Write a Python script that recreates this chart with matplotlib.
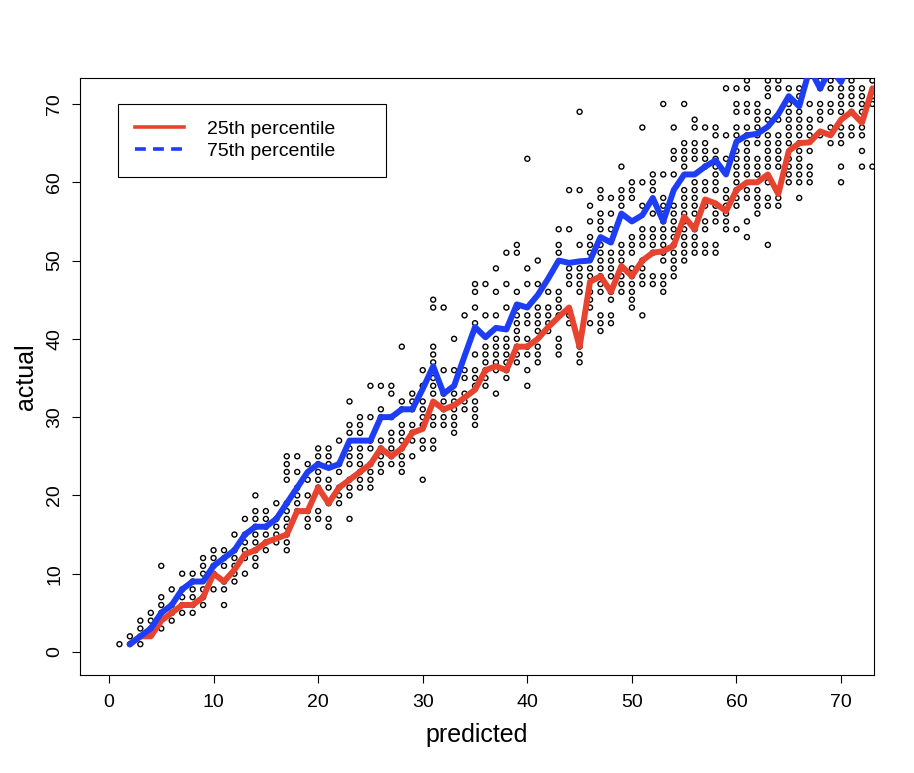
import numpy as np
import matplotlib
matplotlib.use('Agg')
import matplotlib.pyplot as plt
from matplotlib.lines import Line2D

plt.rcParams['font.family'] = ['Liberation Sans', 'DejaVu Sans']

predicted = list(range(1, 74))
actual = [
    [1],
    [1, 2],
    [1, 2, 3, 4],
    [3, 4, 5],
    [3, 5, 6, 7, 11],
    [4, 5, 6, 8],
    [5, 6, 7, 8, 10],
    [5, 6, 7, 8, 9, 10],
    [6, 7, 8, 10, 11, 12],
    [8, 10, 11, 12, 13],
    [6, 8, 9, 11, 12, 13],
    [9, 10, 11, 12, 13, 15],
    [10, 12, 13, 14, 15, 17],
    [11, 12, 13, 14, 15, 16, 17, 18, 20],
    [13, 14, 15, 16, 17, 18],
    [14, 15, 16, 17, 19],
    [13, 14, 15, 16, 17, 18, 19, 22, 23, 24, 25],
    [18, 19, 20, 21, 23, 25],
    [16, 17, 18, 20, 22, 24],
    [17, 18, 21, 22, 23, 24, 25, 26],
    [16, 17, 19, 21, 22, 24, 25, 26],
    [19, 20, 21, 23, 24, 27],
    [17, 20, 21, 22, 24, 25, 26, 28, 29, 32],
    [21, 22, 23, 24, 25, 26, 28, 29, 30],
    [21, 22, 23, 24, 26, 27, 30, 34],
    [23, 24, 25, 26, 27, 30, 31, 34],
    [24, 25, 26, 27, 28, 30, 33, 34],
    [23, 24, 25, 26, 27, 28, 29, 31, 32, 39],
    [25, 27, 28, 29, 31, 32, 33],
    [22, 26, 27, 29, 30, 31, 32, 34, 36],
    [26, 27, 29, 30, 33, 34, 35, 36, 37, 38, 39, 44, 45],
    [29, 30, 31, 32, 33, 36, 44],
    [28, 29, 30, 31, 32, 33, 36, 40],
    [31, 32, 33, 35, 36, 43],
    [29, 30, 31, 32, 34, 35, 36, 38, 42, 44, 46, 47],
    [34, 35, 36, 37, 38, 39, 43, 47],
    [33, 36, 37, 38, 39, 40, 43, 46, 49],
    [35, 36, 37, 38, 39, 40, 44, 47, 51],
    [37, 38, 39, 40, 41, 42, 43, 44, 46, 51, 52],
    [34, 36, 38, 39, 40, 42, 43, 47, 49, 63],
    [37, 38, 39, 41, 42, 43, 44, 47, 50],
    [41, 42, 43, 44, 46],
    [38, 39, 40, 43, 44, 45, 46, 51, 52, 54],
    [42, 43, 47, 48, 49, 54, 59],
    [37, 38, 39, 46, 47, 48, 49, 52, 59, 69],
    [42, 44, 45, 46, 48, 49, 51, 52, 53, 55, 57],
    [41, 42, 43, 46, 47, 48, 49, 50, 51, 52, 54, 55, 56, 58, 59],
    [42, 43, 45, 46, 48, 49, 50, 51, 54, 56, 58],
    [46, 47, 48, 49, 50, 51, 52, 57, 58, 59, 62],
    [44, 45, 46, 47, 48, 49, 51, 52, 53, 58, 59, 60],
    [43, 47, 48, 49, 50, 52, 53, 54, 57, 60, 67],
    [47, 48, 51, 52, 53, 54, 56, 59, 60, 61],
    [46, 47, 48, 50, 51, 52, 53, 54, 55, 56, 57, 58, 61, 70],
    [48, 49, 50, 51, 52, 53, 54, 55, 56, 57, 61, 63, 64, 67],
    [50, 51, 52, 53, 54, 55, 56, 57, 58, 59, 62, 63, 64, 65, 70],
    [51, 52, 53, 54, 56, 57, 58, 59, 60, 63, 64, 65, 67, 68],
    [51, 52, 54, 55, 57, 59, 60, 62, 63, 64, 65, 67],
    [51, 52, 55, 56, 57, 59, 60, 61, 62, 63, 64, 66, 67],
    [54, 55, 56, 57, 58, 59, 63, 66, 72],
    [54, 57, 58, 59, 60, 61, 62, 63, 64, 66, 67, 69, 70, 72],
    [53, 55, 58, 59, 61, 62, 63, 64, 65, 66, 67, 69, 70, 72, 73],
    [56, 57, 58, 59, 61, 62, 63, 65, 66, 67, 68, 69, 70],
    [52, 57, 58, 60, 62, 63, 64, 65, 66, 68, 69, 71, 72, 73],
    [57, 58, 62, 63, 64, 65, 66, 68, 72, 73],
    [60, 61, 62, 63, 65, 66, 67, 68, 69, 70, 72],
    [58, 60, 61, 62, 63, 64, 65, 66, 67, 68, 69, 71, 72],
    [60, 61, 62, 64, 66, 67, 68, 70],
    [66, 68, 69, 70, 72, 73],
    [65, 67, 69, 70, 72, 73],
    [60, 62, 65, 66, 67, 69, 70, 71, 72],
    [66, 67, 69, 70, 71, 72, 73],
    [62, 64, 66, 67, 69, 70, 71, 72],
    [62, 70, 71, 73],
]

# percentile curves by predicted value
pct_x = list(range(2, 74))
p25 = [1, 2, 2, 4, 5, 6, 6, 7, 10, 9, 10.5, 12.5, 13, 14, 14.5, 15, 18, 18, 21, 19,
       21, 22, 23, 24, 26, 25, 26, 28, 28.5, 32, 31, 31.5, 32.5, 33.5, 36, 36.5, 36,
       39, 39, 40, 41.5, 42.8, 44, 39, 47.3, 48, 46, 49.3, 48, 50, 51, 51.2, 51.9,
       55.6, 54, 57.8, 57.3, 56.3, 59, 60, 60, 61, 58.5, 64, 65, 65.1, 66.5, 66, 68,
       69, 67.6, 72]
p75 = [1, 2, 3, 5, 6, 8, 9, 9, 11, 12, 13, 15, 16, 16, 17, 19, 21, 23, 24, 23.5,
       24, 27, 27, 27, 30, 30, 31, 31, 33.6, 36.5, 33, 34, 37.8, 41.5, 40.2, 41.4,
       41.2, 44.4, 44, 45.6, 47.7, 50, 49.7, 49.9, 50, 53, 52.3, 56, 55, 55.8, 58,
       55, 59, 61, 61, 62, 62.8, 61, 65.2, 66, 66.2, 67.1, 68.7, 71, 69.7, 74.5, 72,
       74.5, 72.8, 76, 77, 78]

RED = '#E8432E'
BLUE = '#1E3EF6'

xs = np.concatenate([[p] * len(a) for p, a in zip(predicted, actual)])
ys = np.concatenate(actual)

fig = plt.figure(figsize=(9.14, 7.73), dpi=100)
ax = fig.add_axes([80 / 914, 1 - 675 / 773, 794 / 914, 597 / 773])

ax.scatter(xs, ys, s=13, facecolors='none', edgecolors='black', linewidths=1.0, zorder=2)
ax.plot(pct_x, p25, color=RED, lw=4.3, solid_joinstyle='round', solid_capstyle='round', zorder=3)
ax.plot(pct_x, p75, color=BLUE, lw=4.3, solid_joinstyle='round', solid_capstyle='round', zorder=4)

ax.set_xlim(-2.77, 73.15)
ax.set_ylim(-2.94, 73.32)
ticks = [0, 10, 20, 30, 40, 50, 60, 70]
ax.set_xticks(ticks)
ax.set_yticks(ticks)
ax.set_yticklabels([str(t) for t in ticks], rotation=90, va='center')
ax.tick_params(direction='out', length=6, width=0.8, labelsize=14, colors='black')
ax.tick_params(axis='x', pad=8)
ax.tick_params(axis='y', pad=6)
for s in ax.spines.values():
    s.set_linewidth(0.8)

ax.set_xlabel('predicted', fontsize=18, labelpad=8)
ax.set_ylabel('actual', fontsize=18, labelpad=6)

handles = [Line2D([], [], color=RED, lw=2.6),
           Line2D([], [], color=BLUE, lw=2.6, ls=(0, (3, 2)))]
leg = ax.legend(handles, ['25th percentile', '75th percentile'],
                loc='upper left', bbox_to_anchor=(0.0479, 0.9564, 0.3375, 0.0),
                mode='expand', fontsize=14, frameon=True, fancybox=False,
                edgecolor='black', framealpha=1, borderpad=0.85,
                handlelength=2.55, handletextpad=1.15, labelspacing=0.22,
                borderaxespad=0)
leg.get_frame().set_linewidth(0.8)

fig.savefig('out.png', dpi=100)
